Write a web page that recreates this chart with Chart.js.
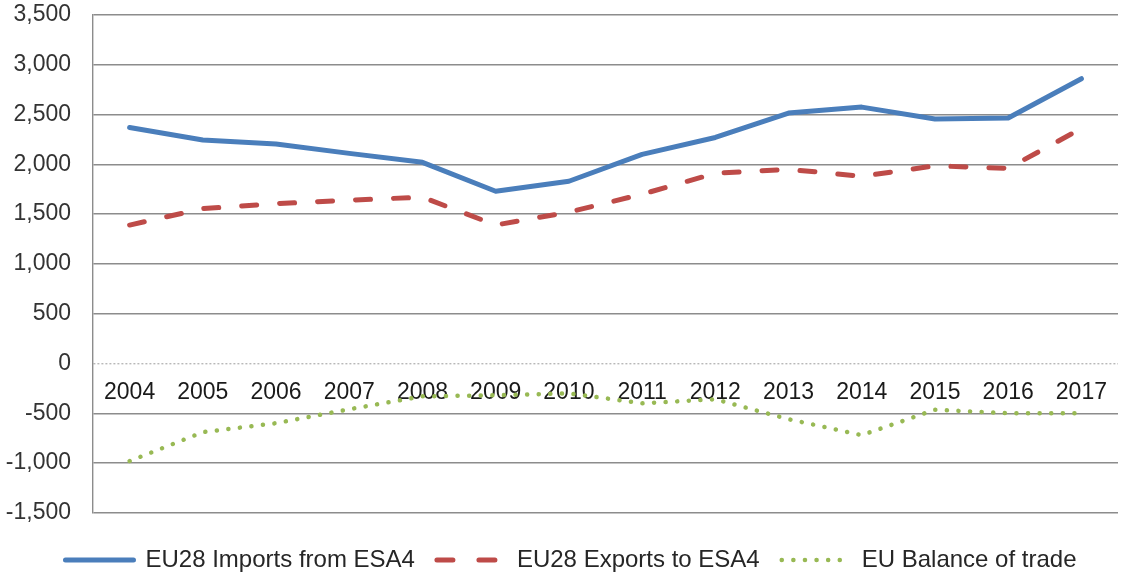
<!DOCTYPE html>
<html>
<head>
<meta charset="utf-8">
<script src="https://cdn.jsdelivr.net/npm/chart.js@4"></script>
<style>
  html, body { margin: 0; padding: 0; background: #fff; }
  #wrap { width: 1121px; height: 573px; }
</style>
</head>
<body>
<div id="wrap"><canvas id="tradeChart"></canvas></div>
<script>
const years = ["2004", "2005", "2006", "2007", "2008", "2009", "2010", "2011", "2012", "2013", "2014", "2015", "2016", "2017"];
const importsFromEsa4 = [2370, 2245, 2205, 2110, 2020, 1730, 1830, 2100, 2270, 2515, 2575, 2455, 2465, 2860];
const exportsToEsa4 = [1390, 1555, 1605, 1640, 1670, 1390, 1520, 1700, 1910, 1950, 1880, 1985, 1960, 2360];
const balanceOfTrade = [-980, -690, -600, -460, -330, -320, -300, -400, -360, -560, -720, -465, -500, -500];

const FONT = "'Liberation Sans', Arial, sans-serif";
const GRID = "#8c8c8c";

const series = [
  { label: "EU28 Imports from ESA4", data: importsFromEsa4, color: "#4a7ebb", width: 5, dash: [], keyDash: [] },
  { label: "EU28 Exports to ESA4", data: exportsToEsa4, color: "#be4b48", width: 5, dash: [15, 23], keyDash: [16, 26] },
  { label: "EU Balance of trade", data: balanceOfTrade, color: "#98b954", width: 4.5, dash: [0.1, 11.5], keyDash: [0.1, 11.5] }
];

// push the legend row a bit to the right of centre
const legendNudge = {
  id: "legendNudge",
  afterLayout(chart) {
    if (!chart.legend) return;
    chart.legend.left += 12;
    chart.legend.right += 12;
  }
};

new Chart(document.getElementById("tradeChart"), {
  type: "line",
  data: {
    labels: years,
    datasets: series.map((s) => ({
      label: s.label,
      data: s.data,
      borderColor: s.color,
      backgroundColor: s.color,
      borderWidth: s.width,
      borderDash: s.dash,
      borderCapStyle: "round",
      borderJoinStyle: "round",
      pointRadius: 0,
      tension: 0,
      fill: false
    }))
  },
  options: {
    responsive: true,
    maintainAspectRatio: false,
    animation: false,
    layout: { padding: { top: 15, right: 3, bottom: -9, left: 0 } },
    scales: {
      x: {
        position: { y: 0 },
        offset: true,
        grid: { display: false },
        border: { display: false },
        ticks: {
          autoSkip: false,
          maxRotation: 0,
          padding: 7,
          color: "#1a1a1a",
          font: { family: FONT, size: 23 }
        }
      },
      y: {
        min: -1500,
        max: 3500,
        afterFit: (scale) => {
          scale.width = 93;
          scale.paddingTop = 0;
          scale.paddingBottom = 0;
        },
        ticks: {
          stepSize: 500,
          padding: 22,
          color: "#333333",
          font: { family: FONT, size: 23 },
          callback: (v) => Number(v).toLocaleString("en-US")
        },
        grid: {
          drawTicks: false,
          lineWidth: 1.4,
          color: (ctx) => (ctx.tick && ctx.tick.value === 0 ? "#b8b8b8" : GRID)
        },
        border: {
          display: true,
          color: GRID,
          width: 1.4,
          dash: (ctx) => (ctx.tick && ctx.tick.value === 0 ? [2, 2] : [])
        }
      }
    },
    plugins: {
      tooltip: { enabled: false },
      legend: {
        position: "bottom",
        // empty title only adds a little space above the keys
        title: { display: true, text: "", font: { size: 1 }, padding: { top: 12, bottom: 0 } },
        labels: {
          usePointStyle: true,
          pointStyleWidth: 68,
          boxHeight: 10,
          padding: 22,
          color: "#262626",
          font: { family: FONT, size: 24 },
          generateLabels: () => series.map((s, i) => ({
            text: s.label,
            datasetIndex: i,
            pointStyle: "line",
            strokeStyle: s.color,
            fillStyle: s.color,
            lineWidth: s.width,
            lineDash: s.keyDash,
            lineCap: "round",
            fontColor: "#262626",
            hidden: false
          }))
        }
      }
    }
  },
  plugins: [legendNudge]
});
</script>
</body>
</html>
